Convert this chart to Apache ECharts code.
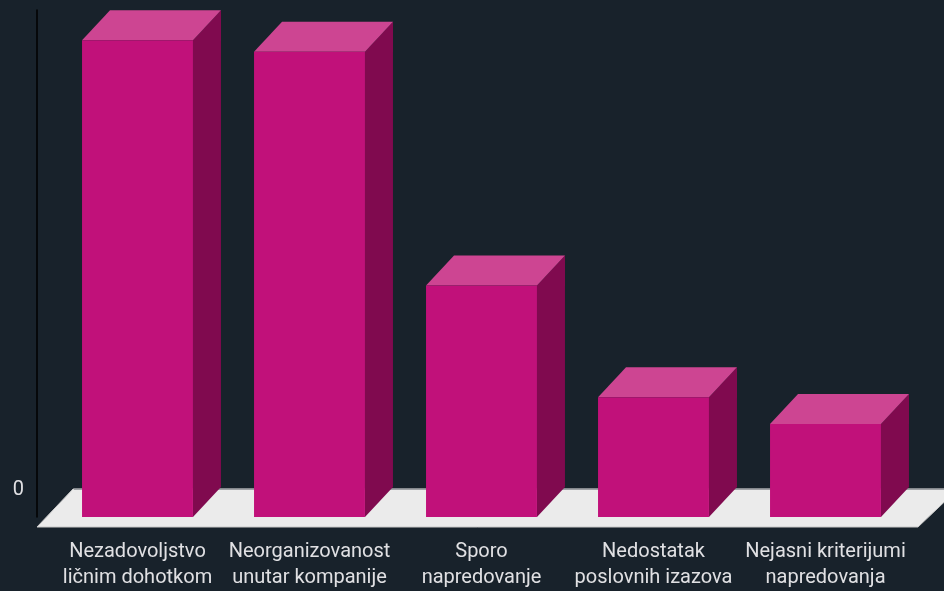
<!DOCTYPE html>
<html>
<head>
<meta charset="utf-8">
<script src="https://cdn.jsdelivr.net/npm/echarts@6/dist/echarts.min.js"></script>
<style>
html,body{margin:0;padding:0;background:#18222b;}
#c{width:944px;height:591px;}
</style>
</head>
<body>
<div id="c"></div>
<script>
var categories = [
  'Nezadovoljstvo\nličnim dohotkom',
  'Neorganizovanost\nunutar kompanije',
  'Sporo\nnapredovanje',
  'Nedostatak\nposlovnih izazova',
  'Nejasni kriterijumi\nnapredovanja'
];
var values = [41, 40, 19.9, 10.3, 8];
var yTickLabels = ['0'];

var DX = 28, DY = -30;
var FRONT = '#c1117a', TOP = '#cd4592', SIDE = '#800a4f';

var chart = echarts.init(document.getElementById('c'), null, {renderer: 'canvas'});

function renderBar(params, api) {
  var idx = api.value(0), v = api.value(1);
  var top = api.coord([idx, v]);
  var bot = api.coord([idx, 0]);
  var w = api.size([1, 0])[0] * 0.645;
  var x0 = top[0] - w / 2, x1 = top[0] + w / 2;
  var yT = top[1], yB = bot[1];
  return {
    type: 'group',
    children: [
      {type: 'polygon', shape: {points: [[x1, yT], [x1 + DX, yT + DY], [x1 + DX, yB + DY], [x1, yB]]}, style: {fill: SIDE}},
      {type: 'polygon', shape: {points: [[x0, yT], [x1, yT], [x1 + DX, yT + DY], [x0 + DX, yT + DY]]}, style: {fill: TOP}},
      {type: 'rect', shape: {x: x0, y: yT, width: w, height: yB - yT}, style: {fill: FRONT}}
    ]
  };
}

function renderFloor(params, api) {
  var a = api.coord([0, 0]);
  var band = api.size([1, 0])[0];
  var left = a[0] - band / 2 - 14.5;
  var right = left + 881;
  var yF = a[1] + 10, yBk = a[1] - 28;
  return {
    type: 'group',
    children: [
      {type: 'polygon', shape: {points: [[left, yF], [left + 36, yBk], [right + 40, yBk], [right, yF]]}, style: {fill: '#ebebeb', stroke: '#c8c8c8', lineWidth: 1}},
      {type: 'line', shape: {x1: left + 37, y1: yBk, x2: right + 40, y2: yBk}, style: {stroke: '#8c9196', lineWidth: 1.5}}
    ]
  };
}

chart.setOption({
  backgroundColor: '#18222b',
  animation: false,
  grid: {left: 51.5, right: 32.5, top: 10, bottom: 74},
  xAxis: {
    type: 'category',
    data: categories,
    axisLine: {show: false},
    axisTick: {show: false},
    axisLabel: {
      color: '#e0e0e3', fontFamily: 'Roboto', fontSize: 20, lineHeight: 26,
      margin: 22, interval: 0
    }
  },
  yAxis: {
    type: 'value',
    min: 0, max: 43.6,
    offset: 14.5,
    splitLine: {show: false},
    axisTick: {show: false},
    axisLine: {show: true, lineStyle: {color: '#000000', width: 1.5}},
    axisLabel: {
      margin: 13,
      formatter: function (v) { return v === 0 ? '{a|' + yTickLabels[0] + '}' : ''; },
      rich: {a: {color: '#e0e0e3', fontFamily: 'Roboto', fontSize: 20, padding: [0, 0, 54, 0]}}
    }
  },
  series: [
    {type: 'custom', renderItem: renderFloor, data: [[0, 0]], z: 1, silent: true},
    {type: 'custom', renderItem: renderBar, data: values.map(function (v, i) { return [i, v]; }), z: 2,
     encode: {x: 0, y: 1}}
  ]
});
</script>
</body>
</html>
